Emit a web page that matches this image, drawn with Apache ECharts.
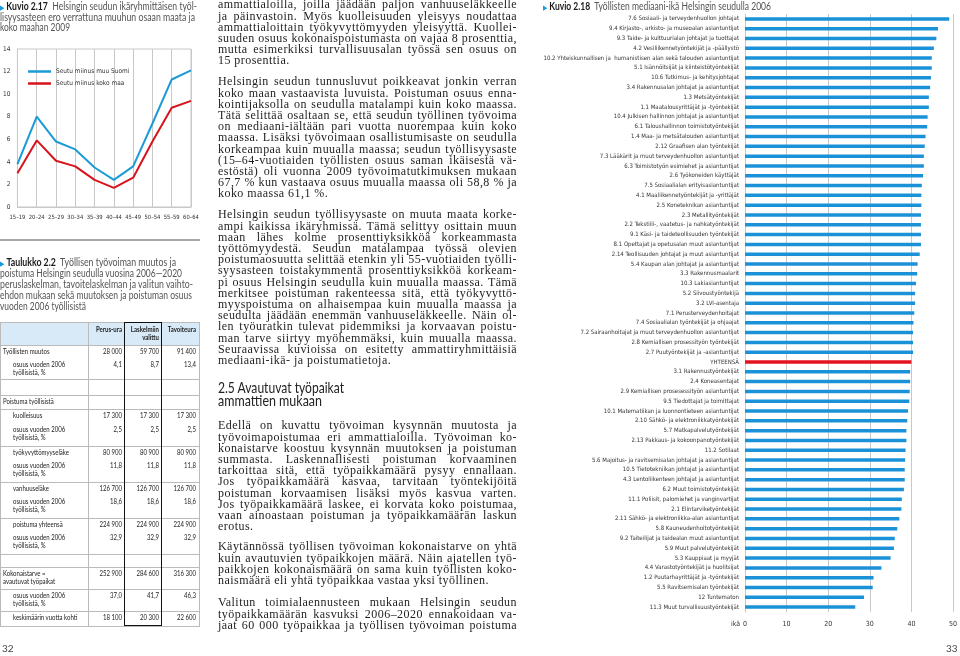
<!DOCTYPE html>
<html><head><meta charset="utf-8">
<script src="https://cdn.jsdelivr.net/npm/echarts@6/dist/echarts.min.js"></script>
<style>
html,body{margin:0;padding:0;background:#fff;}
#page{position:relative;width:960px;height:656px;overflow:hidden;}
#chart{position:absolute;left:0;top:0;width:960px;height:656px;}
.abs{position:absolute;}
.sans{font-family:Lato,'Noto Sans',sans-serif;}
.tl{position:absolute;white-space:nowrap;color:#555;font-size:10.5px;line-height:11px;transform-origin:left center;}
.tl b{color:#1a1a1a;}
.tri{color:#1a9bd7;font-size:7px;}
.ln{position:absolute;left:218px;white-space:nowrap;font-family:'Liberation Serif',serif;font-size:12px;letter-spacing:0.45px;height:11.2px;line-height:11.2px;color:#1e1e1e;}
.head{position:absolute;white-space:nowrap;font-size:15px;line-height:13px;color:#222;transform-origin:left center;}
.cell{position:absolute;font-size:7.2px;line-height:7.5px;color:#222;white-space:pre;}
.pg{font-size:10px;color:#444;}
</style></head>
<body><div id="page">
<div id="chart"></div>
<div id="overlay"></div>
</div>
<script>
// ---------- DATA ----------
const ageGroups = ['15–19','20–24','25–29','30–34','35–39','40–44','45–49','50–54','55–59','60–64'];
const diffRestOfFinland = [3.8, 8.0, 5.8, 5.1, 3.5, 2.4, 3.6, 7.4, 11.3, 12.1];
const diffWholeCountry = [3.0, 5.9, 4.1, 3.6, 2.4, 1.7, 2.6, 5.8, 8.8, 9.4];
const lineSeriesNames = ['Seutu miinus muu Suomi','Seutu miinus koko maa'];

const occupations = [
'7.6 Sosiaali- ja terveydenhuollon johtajat',
'9.4 Kirjasto-, arkisto- ja museoalan asiantuntijat',
'9.3 Taide- ja kulttuurialan johtajat ja tuottajat',
'4.2 Vesiliikennetyöntekijät ja -päällystö',
'10.2 Yhteiskunnallisen ja  humanistisen alan sekä talouden asiantuntijat',
'5.1 Isännöitsijät ja kiinteistötyöntekijät',
'10.6 Tutkimus- ja kehitysjohtajat',
'3.4 Rakennusalan johtajat ja asiantuntijat',
'1.3 Metsätyöntekijät',
'1.1 Maatalousyrittäjät ja -työntekijät',
'10.4 Julkisen hallinnon johtajat ja asiantuntijat',
'6.1 Taloushallinnon toimistotyöntekijät',
'1.4 Maa- ja metsätalouden asiantuntijat',
'2.12 Graafisen alan työntekijät',
'7.3 Lääkärit ja muut terveydenhuollon asiantuntijat',
'6.3 Toimistotyön esimiehet ja asiantuntijat',
'2.6 Työkoneiden käyttäjät',
'7.5 Sosiaalialan erityisasiantuntijat',
'4.1 Maaliikennetyöntekijät ja -yrittäjät',
'2.5 Koneteknikan asiantuntijat',
'2.3 Metallityöntekijät',
'2.2 Tekstiili-, vaatetus- ja nahkatyöntekijät',
'9.1 Käsi- ja taideteollisuuden työntekijät',
'8.1 Opettajat ja opetusalan muut asiantuntijat',
'2.14 Teollisuuden johtajat ja muut asiantuntijat',
'5.4 Kaupan alan johtajat ja asiantuntijat',
'3.3 Rakennusmaalarit',
'10.3 Lakiasiantuntijat',
'5.2 Siivoustyöntekijä',
'3.2 LVI-asentaja',
'7.1 Perusterveydenhoitajat',
'7.4 Sosiaalialan työntekijät ja ohjaajat',
'7.2 Sairaanhoitajat ja muut terveydenhuollon asiantuntijat',
'2.8 Kemiallisen prosessityön työntekijät',
'2.7 Puutyöntekijät ja -asiantuntijat',
'YHTEENSÄ',
'3.1 Rakennustyöntekijät',
'2.4 Koneasentajat',
'2.9 Kemiallisen prosesessityön asiantuntijat',
'9.5 Tiedottajat ja toimittajat',
'10.1 Matematiikan ja luonnontieteen asiantuntijat',
'2.10 Sähkö- ja elektroniikkatyöntekijät',
'5.7 Matkapalvelutyöntekijät',
'2.13 Pakkaus- ja kokoonpanotyöntekijät',
'11.2 Sotilaat',
'5.6 Majoitus- ja ravitsemisalan johtajat ja asiantuntijat',
'10.5 Tietotekniikan johtajat ja asiantuntijat',
'4.3 Lentoliikenteen johtajat ja asiantuntijat',
'6.2 Muut toimistotyöntekijät',
'11.1 Poliisit, palomiehet ja vanginvartijat',
'2.1 Elintarviketyöntekijät',
'2.11 Sähkö- ja elektroniikka-alan asiantuntijat',
'5.8 Kauneudenhoitotyöntekijät',
'9.2 Taiteilijat ja taidealan muut asiantuntijat',
'5.9 Muut palvelutyöntekijät',
'5.3 Kauppiaat ja myyjät',
'4.4 Varastotyöntekijät ja huolitsijat',
'1.2 Puutarhayrittäjät ja -työntekijät',
'5.5 Ravitsemisalan työntekijät',
'12 Tuntematon',
'11.3 Muut turvallisuustyöntekijät'
];
const medianAge = [49.1,46.4,46.0,45.4,44.9,44.9,44.7,44.5,44.2,44.2,
43.9,43.8,43.4,43.2,43.0,43.0,42.8,42.5,42.4,42.4,
42.3,42.3,42.3,42.3,42.0,41.5,41.4,41.1,40.9,40.9,
40.7,40.5,40.4,40.4,40.4,40.0,39.7,39.7,39.6,39.5,
39.2,39.0,38.8,38.8,38.6,38.5,38.4,38.4,38.2,37.7,
37.6,37.1,36.6,36.0,35.8,35.0,32.8,30.9,30.7,28.6,26.5];
const xTicks = [0,10,20,30,40,50];

const tableColumns = ['Perus-ura','Laskelmiin\nvalittu','Tavoiteura'];
const tableRowLabels = ['Työllisten muutos','osuus vuoden 2006\ntyöllisistä, %','','Poistuma työllisistä',
 'kuolleisuus','osuus vuoden 2006\ntyöllisistä, %','työkyvyttömyyseläke','osuus vuoden 2006\ntyöllisistä, %',
 'vanhuuseläke','osuus vuoden 2006\ntyöllisistä, %','poistuma yhteensä','osuus vuoden 2006\ntyöllisistä, %','',
 'Kokonaistarve =\navautuvat työpaikat','osuus vuoden 2006\ntyöllisistä, %','keskimäärin vuotta kohti'];
const perusUra = ['28 000','4,1','','','17 300','2,5','80 900','11,8','126 700','18,6','224 900','32,9','','252 900','37,0','18 100'];
const laskelmiinValittu = ['59 700','8,7','','','17 300','2,5','80 900','11,8','126 700','18,6','224 900','32,9','','284 600','41,7','20 300'];
const tavoiteura = ['91 400','13,4','','','17 300','2,5','80 900','11,8','126 700','18,6','224 900','32,9','','316 300','46,3','22 600'];

const paragraphs = [
 ['ammattialoilla, joilla jäädään paljon vanhuuseläkkeelle','ja päinvastoin. Myös kuolleisuuden yleisyys noudattaa','ammattialoittain työkyvyttömyyden yleisyyttä. Kuollei-','suuden osuus kokonaispoistumasta on vajaa 8 prosenttia,','mutta esimerkiksi turvallisuusalan työssä sen osuus on','15 prosenttia.'],
 ['Helsingin seudun tunnusluvut poikkeavat jonkin verran','koko maan vastaavista luvuista. Poistuman osuus enna-','kointijaksolla on seudulla matalampi kuin koko maassa.','Tätä selittää osaltaan se, että seudun työllinen työvoima','on mediaani-iältään pari vuotta nuorempaa kuin koko','maassa. Lisäksi työvoimaan osallistumisaste on seudulla','korkeampaa kuin muualla maassa; seudun työllisyysaste','(15–64-vuotiaiden työllisten osuus saman ikäisestä vä-','estöstä) oli vuonna 2009 työvoimatutkimuksen mukaan','67,7 % kun vastaava osuus muualla maassa oli 58,8 % ja','koko maassa 61,1 %.'],
 ['Helsingin seudun työllisyysaste on muuta maata korke-','ampi kaikissa ikäryhmissä. Tämä selittyy osittain muun','maan lähes kolme prosenttiyksikköä korkeammasta','työttömyydestä. Seudun matalampaa työssä olevien','poistumaosuutta selittää etenkin yli 55-vuotiaiden työlli-','syysasteen toistakymmentä prosenttiyksikköä korkeam-','pi osuus Helsingin seudulla kuin muualla maassa. Tämä','merkitsee poistuman rakenteessa sitä, että työkyvyttö-','myyspoistuma on alhaisempaa kuin muualla maassa ja','seudulta jäädään enemmän vanhuuseläkkeelle. Näin ol-','len työuratkin tulevat pidemmiksi ja korvaavan poistu-','man tarve siirtyy myöhemmäksi, kuin muualla maassa.','Seuraavissa kuvioissa on esitetty ammattiryhmittäisiä','mediaani-ikä- ja poistumatietoja.'],
 ['Edellä on kuvattu työvoiman kysynnän muutosta ja','työvoimapoistumaa eri ammattialoilla. Työvoiman ko-','konaistarve koostuu kysynnän muutoksen ja poistuman','summasta. Laskennallisesti poistuman korvaaminen','tarkoittaa sitä, että työpaikkamäärä pysyy ennallaan.','Jos työpaikkamäärä kasvaa, tarvitaan työntekijöitä','poistuman korvaamisen lisäksi myös kasvua varten.','Jos työpaikkamäärä laskee, ei korvata koko poistumaa,','vaan ainoastaan poistuman ja työpaikkamäärän laskun','erotus.'],
 ['Käytännössä työllisen työvoiman kokonaistarve on yhtä','kuin avautuvien työpaikkojen määrä. Näin ajatellen työ-','paikkojen kokonaismäärä on sama kuin työllisten koko-','naismäärä eli yhtä työpaikkaa vastaa yksi työllinen.'],
 ['Valitun toimialaennusteen mukaan Helsingin seudun','työpaikkamäärän kasvuksi 2006–2020 ennakoidaan va-','jaat 60 000 työpaikkaa ja työllisen työvoiman poistuma']
];

// ---------- LAYOUT (positions only) ----------
const paraTops = [-0.6, 76.4, 209.4, 420.4, 541.4, 597.4];
const paraOpenEnd = [false,false,false,false,false,true];
const colWidth = 299, lineH = 11.2;
const rowHeights = [13,21,16,14,14,23,13,23,13,23,13,23,13,22,22,15];
const rowBorderBelow = [0,1,1,1,0,1,0,1,0,1,0,1,1,1,1,1];
const rowIndent = [0,1,0,0,1,1,1,1,1,1,1,1,0,0,1,1];
const colX = [0,88,125,162,199];
const CELL_SCALE = 0.84;

const NARROW = "'Liberation Sans Narrow','DejaVu Sans Condensed',Lato,sans-serif";

// ---------- HTML OVERLAY ----------
const ov = document.getElementById('overlay');
let h = '';
function tline(html, x, yc, w) {
  return '<div class="tl sans" data-w="' + w + '" style="left:' + x + 'px;top:' + (yc - 5.5) + 'px">' + html + '</div>';
}
const tri = '<span class="tri">▶</span> ';
h += tline(tri + '<b>Kuvio 2.17</b>&nbsp; Helsingin seudun ikäryhmittäisen työl-', 0, 6, 197);
h += tline('lisyysasteen ero verrattuna muuhun osaan maata ja', 0, 17, 195);
h += tline('koko maahan 2009', 0, 27.5, 70);
h += '<div class="abs" style="left:0;top:239px;width:200px;height:2px;background:#a8a8a8"></div>';
h += tline(tri + '<b>Taulukko 2.2</b>&nbsp; Työllisen työvoiman muutos ja', 0, 262, 176);
h += tline('poistuma Helsingin seudulla vuosina 2006—2020', 0, 273.5, 182);
h += tline('peruslaskelman, tavoitelaskelman ja valitun vaihto-', 0, 284.5, 193);
h += tline('ehdon mukaan sekä muutoksen ja poistuman osuus', 0, 295.5, 192);
h += tline('vuoden 2006 työllisistä', 0, 306, 86);
h += tline(tri + '<b>Kuvio 2.18</b>&nbsp; Työllisten mediaani-ikä Helsingin seudulla 2006', 543, 6, 228);
h += '<div class="head sans" data-w="126" style="left:218px;top:380.5px">2.5 Avautuvat työpaikat</div>';
h += '<div class="head sans" data-w="104" style="left:218px;top:393.5px">ammattien mukaan</div>';
paragraphs.forEach((p, pi) => {
  p.forEach((l, i) => {
    const last = (i === p.length - 1) && !paraOpenEnd[pi];
    h += '<div class="ln" data-just="' + (last ? 0 : 1) + '" style="top:' + (paraTops[pi] + i * lineH) + 'px">' + l + '</div>';
  });
});
h += '<div class="abs sans pg" style="left:2px;top:642px">32</div>';
h += '<div class="abs sans pg" style="left:946px;top:642px">33</div>';

// table
const tTop = 322, hdrH = 23;
let tb = '<div class="abs sans" style="left:0;top:0">';
tb += '<div class="abs" style="left:0;top:' + tTop + 'px;width:200px;height:' + hdrH + 'px;background:#d8eaf8;border-top:1px solid #bbb;box-sizing:border-box"></div>';
function cell(txt, x, w, top, right, bold) {
  return '<div class="cell" style="' + (bold ? 'font-weight:bold;' : '') + 'text-align:' + (right ? 'right' : 'left') +
    ';left:' + x + 'px;width:' + w + 'px;top:' + top + 'px;transform:scaleX(' + CELL_SCALE + ');transform-origin:' + (right ? 'right' : 'left') + ' top">' + txt + '</div>';
}
tableColumns.forEach((c, i) => {
  tb += cell(c, colX[i+1], colX[i+2]-colX[i+1]-3, tTop + 4, true, true);
});
let y = tTop + hdrH;
tb += '<div class="abs" style="left:0;top:' + y + 'px;width:200px;height:1px;background:#bbb"></div>';
rowHeights.forEach((rh, r) => {
  const ind = rowIndent[r] ? 13 : 3;
  tb += cell(tableRowLabels[r], ind, 85 - ind, y + 3, false, false);
  [perusUra, laskelmiinValittu, tavoiteura].forEach((arr, i) => {
    tb += cell(arr[r], colX[i+1], colX[i+2]-colX[i+1]-3, y + 3, true, false);
  });
  y += rh;
  if (rowBorderBelow[r]) tb += '<div class="abs" style="left:0;top:' + y + 'px;width:200px;height:1px;background:#bbb"></div>';
});
[0,1,4].forEach(k => {
  tb += '<div class="abs" style="left:' + colX[k] + 'px;top:' + tTop + 'px;width:1px;height:' + (y-tTop) + 'px;background:#bbb"></div>';
});
tb += '<div class="abs" style="left:' + (colX[2]-1) + 'px;top:' + tTop + 'px;width:' + (colX[3]-colX[2]+1) + 'px;height:' + (y-tTop) + 'px;border:1.5px solid #111;box-sizing:border-box"></div>';
tb += '</div>';
h += tb;
ov.innerHTML = h;

document.querySelectorAll('[data-w]').forEach(el => {
  const w = el.getBoundingClientRect().width;
  const t = parseFloat(el.dataset.w);
  if (w > 0) el.style.transform = 'scaleX(' + (t / w) + ')';
});
document.querySelectorAll('.ln').forEach(el => {
  const w = el.getBoundingClientRect().width;
  const spaces = (el.textContent.match(/ /g) || []).length;
  if ((el.dataset.just === '1' || w > colWidth) && spaces > 0) {
    el.style.wordSpacing = ((colWidth - w) / spaces) + 'px';
  }
});

// ---------- ECHARTS ----------
const chart = echarts.init(document.getElementById('chart'), null, {renderer:'canvas'});
const barData = medianAge.map((v, i) => occupations[i] === 'YHTEENSÄ'
  ? {value: v, itemStyle: {color: '#e3141f'}} : v);
const option = {
  animation: false,
  textStyle: {fontFamily: NARROW},
  grid: [
    {left: 14, top: 49, width: 177, height: 158, show: true, borderColor: '#c8c8c8', borderWidth: 1},
    {left: 745, top: 14, width: 211, height: 598}
  ],
  legend: {
    left: 23, top: 63, orient: 'vertical', icon: 'rect', itemWidth: 23, itemHeight: 2.5, itemGap: 5,
    data: lineSeriesNames,
    textStyle: {fontSize: 6.5, color: '#333', fontFamily: NARROW}
  },
  xAxis: [
    {gridIndex: 0, type: 'category', data: ageGroups, boundaryGap: false,
     axisLine: {lineStyle: {color: '#c8c8c8'}}, axisTick: {show: false},
     splitLine: {show: true, lineStyle: {color: '#c8c8c8'}},
     axisLabel: {fontSize: 5.8, color: '#333', margin: 7, interval: 0, fontFamily: NARROW}},
    {gridIndex: 1, type: 'value', min: xTicks[0], max: xTicks[xTicks.length-1], interval: xTicks[1]-xTicks[0],
     axisLine: {show: false}, axisTick: {show: false},
     splitLine: {show: true, lineStyle: {color: '#c8c8c8'}},
     axisLabel: {fontSize: 7, color: '#333', margin: 9, fontFamily: NARROW}}
  ],
  yAxis: [
    {gridIndex: 0, type: 'value', min: 0, max: 14, interval: 2,
     axisLine: {show: true, lineStyle: {color: '#c8c8c8'}}, axisTick: {show: false},
     splitLine: {show: false},
     axisLabel: {fontSize: 6.5, color: '#333', margin: 7, fontFamily: NARROW}},
    {gridIndex: 1, type: 'category', data: occupations, inverse: true,
     axisLine: {show: true, lineStyle: {color: '#c8c8c8'}}, axisTick: {show: false},
     axisLabel: {fontSize: 6, color: '#333', margin: 6, interval: 0, fontFamily: NARROW}}
  ],
  graphic: [
    {type: 'text', left: 731, top: 621, style: {text: 'ikä', fontSize: 7, fill: '#333', fontFamily: NARROW}}
  ],
  series: [
    {name: lineSeriesNames[0], type: 'line', xAxisIndex: 0, yAxisIndex: 0, data: diffRestOfFinland,
     symbol: 'none', lineStyle: {width: 2, color: '#1b9ad6'}, itemStyle: {color: '#1b9ad6'}},
    {name: lineSeriesNames[1], type: 'line', xAxisIndex: 0, yAxisIndex: 0, data: diffWholeCountry,
     symbol: 'none', lineStyle: {width: 2, color: '#d7141d'}, itemStyle: {color: '#d7141d'}},
    {name: 'Mediaani-ikä', type: 'bar', xAxisIndex: 1, yAxisIndex: 1, data: barData,
     barWidth: 3.5, itemStyle: {color: '#1b92d8'}}
  ]
};
chart.setOption(option);
</script>
</body></html>
